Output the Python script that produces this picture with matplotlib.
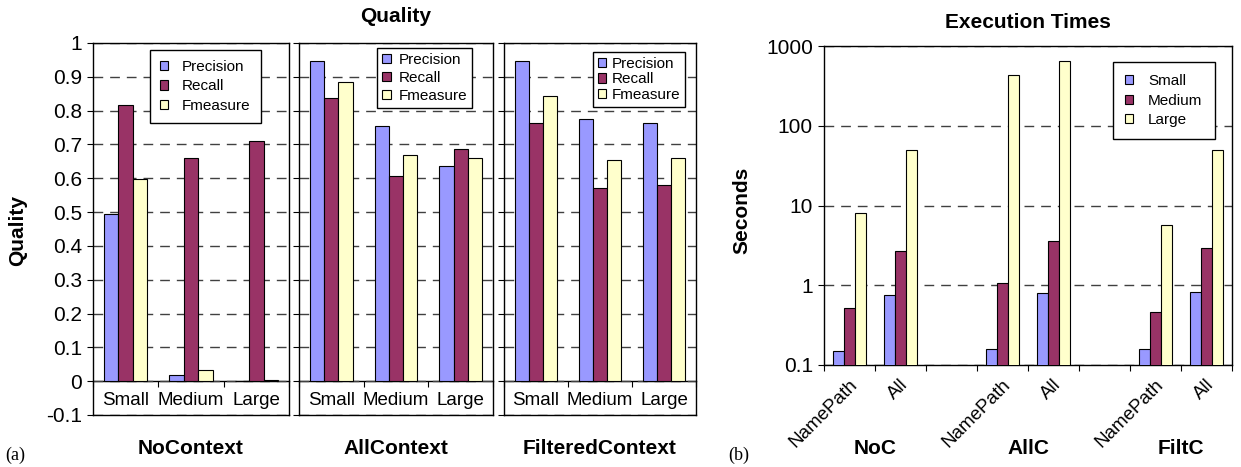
import numpy as np
import matplotlib.pyplot as plt
from matplotlib.patches import Patch
from matplotlib.ticker import NullLocator
from matplotlib.transforms import blended_transform_factory, ScaledTranslation

plt.rcParams['font.family'] = ['Liberation Sans', 'DejaVu Sans']

# ---- (a) Quality data ----
sizes = ["Small", "Medium", "Large"]
measures = ["Precision", "Recall", "Fmeasure"]
contexts = ["NoContext", "AllContext", "FilteredContext"]

noctx_precision = [0.493, 0.017, 0.0]
noctx_recall = [0.817, 0.661, 0.711]
noctx_fmeasure = [0.597, 0.034, 0.003]

allctx_precision = [0.946, 0.754, 0.636]
allctx_recall = [0.837, 0.608, 0.687]
allctx_fmeasure = [0.886, 0.670, 0.660]

filtctx_precision = [0.948, 0.776, 0.764]
filtctx_recall = [0.764, 0.570, 0.580]
filtctx_fmeasure = [0.844, 0.653, 0.660]

quality_ticks = [-0.1, 0, 0.1, 0.2, 0.3, 0.4, 0.5, 0.6, 0.7, 0.8, 0.9, 1]
quality_labels = ["-0.1", "0", "0.1", "0.2", "0.3", "0.4", "0.5", "0.6", "0.7", "0.8", "0.9", "1"]

# ---- (b) Execution time data (seconds), blank slots separate the groups ----
exec_cats = ["NamePath", "All", "", "NamePath", "All", "", "NamePath", "All"]
exec_groups = ["NoC", "AllC", "FiltC"]
small_secs = [0.150, 0.749, np.nan, 0.157, 0.80, np.nan, 0.157, 0.82]
medium_secs = [0.514, 2.72, np.nan, 1.06, 3.57, np.nan, 0.46, 2.91]
large_secs = [8.0, 50.0, np.nan, 437, 642, np.nan, 5.72, 50.0]
time_ticks = [0.1, 1, 10, 100, 1000]
time_labels = ["0.1", "1", "10", "100", "1000"]

colors = ["#9999FF", "#993366", "#FFFFCC"]
W, H = 1241, 467
bw = 0.22

fig = plt.figure(figsize=(W / 100, H / 100), dpi=100)


def px_axes(x0, x1, y0, y1):
    return fig.add_axes([x0 / W, 1 - y1 / H, (x1 - x0) / W, (y1 - y0) / H])


def legend_box(ax, labels, anchor, spacing, textpad, pad):
    handles = [Patch(facecolor=c, edgecolor="black", linewidth=0.8) for c in colors]
    leg = ax.legend(handles, labels, loc="upper left", bbox_to_anchor=anchor,
                    borderaxespad=0, fontsize=11, handlelength=0.55, handleheight=0.55,
                    handletextpad=textpad, labelspacing=spacing, borderpad=pad,
                    fancybox=False, framealpha=1, edgecolor="black")
    leg.get_frame().set_linewidth(1.0)
    leg.set_zorder(5)


# ---- (a) three quality panels ----
panel_px = [(93, 289), (299, 493), (504, 696)]
panel_series = [
    [noctx_precision, noctx_recall, noctx_fmeasure],
    [allctx_precision, allctx_recall, allctx_fmeasure],
    [filtctx_precision, filtctx_recall, filtctx_fmeasure],
]
legend_setup = [
    ((0.291, 0.981), 0.36, 0.9, 0.65),
    ((0.402, 0.987), 0.25, 0.5, 0.35),
    ((0.464, 0.976), 0.12, 0.4, 0.3),
]

for i, ((x0, x1), series) in enumerate(zip(panel_px, panel_series)):
    ax = px_axes(x0, x1, 43, 415)
    ax.set_xlim(0, 3)
    ax.set_ylim(-0.1, 1)
    x = np.arange(len(sizes)) + 0.5
    for k, (vals, col) in enumerate(zip(series, colors)):
        ax.bar(x + (k - 1) * bw, vals, bw, color=col, edgecolor="black",
               linewidth=0.8, zorder=3)
    ax.set_yticks(quality_ticks)
    ax.set_yticklabels(quality_labels if i == 0 else [])
    ax.tick_params(axis="y", direction="out", length=4, width=0.8, labelsize=15, pad=4)
    ax.set_xticks([])
    ax.grid(axis="y", linestyle=(0, (7, 5)), color="#404040", linewidth=1.0)
    ax.set_axisbelow(True)
    for sp in ax.spines.values():
        sp.set_linewidth(1.0)
    # category axis at y = 0
    sec = ax.secondary_xaxis(1 / 11)
    sec.set_xticks([0, 1, 2, 3])
    sec.set_xticklabels([])
    sec.tick_params(direction="out", length=4, width=0.8)
    sec.spines["bottom"].set_linewidth(1.0)
    for xi, s in zip(x, sizes):
        ax.text(xi, -0.057, s, ha="center", va="center", fontsize=13.5)
    legend_box(ax, measures, *legend_setup[i])
    fig.text((x0 + x1) / 2 / W, 1 - 449 / H, contexts[i], ha="center", va="center",
             fontsize=15, fontweight="bold")

fig.text(396 / W, 1 - 17 / H, "Quality", ha="center", va="center",
         fontsize=15, fontweight="bold")
fig.text(18 / W, 1 - 230 / H, "Quality", ha="center", va="center", rotation=90,
         fontsize=15, fontweight="bold")
fig.text(5 / W, 1 - 455 / H, "(a)", ha="left", va="center", fontsize=13,
         family="Liberation Serif")

# ---- (b) execution times ----
ax = px_axes(824, 1232, 46, 365)
ax.set_yscale("log")
ax.set_xlim(0, len(exec_cats))
pos = np.arange(len(exec_cats)) + 0.5
for k, (vals, col) in enumerate(zip([small_secs, medium_secs, large_secs], colors)):
    ax.bar(pos + (k - 1) * bw, vals, bw, color=col, edgecolor="black",
           linewidth=0.8, zorder=3)
ax.set_ylim(0.1, 1000)
ax.set_yticks(time_ticks)
ax.set_yticklabels(time_labels)
ax.yaxis.set_minor_locator(NullLocator())
ax.tick_params(axis="y", direction="out", length=4, width=0.8, labelsize=15, pad=4)
ax.set_xticks(np.arange(len(exec_cats) + 1))
ax.set_xticklabels([])
ax.set_xticks(pos, minor=True)
ax.set_xticklabels(exec_cats, minor=True, rotation=45, ha="right", va="center",
                   rotation_mode="anchor", fontsize=13.5)
ax.tick_params(axis="x", which="major", direction="out", length=4, width=0.8)
ax.tick_params(axis="x", which="minor", length=0, pad=12)
# nudge the slanted labels a little to the right, as in the original
for lab in ax.get_xticklabels(minor=True):
    lab.set_transform(lab.get_transform() + ScaledTranslation(0.05, 0, fig.dpi_scale_trans))
ax.grid(axis="y", which="major", linestyle=(0, (7, 5)), color="#404040", linewidth=1.0)
ax.set_axisbelow(True)
for sp in ax.spines.values():
    sp.set_linewidth(1.0)
legend_box(ax, ["Small", "Medium", "Large"], (0.708, 0.950), 0.35, 0.95, 0.8)

trans = blended_transform_factory(ax.transData, fig.transFigure)
for gx, g in zip([1, 4, 7], exec_groups):
    ax.text(gx, 1 - 448 / H, g, transform=trans, ha="center", va="center",
            fontsize=15, fontweight="bold")

fig.text(1028 / W, 1 - 22 / H, "Execution Times", ha="center", va="center",
         fontsize=15, fontweight="bold")
fig.text(742 / W, 1 - 210 / H, "Seconds", ha="center", va="center", rotation=90,
         fontsize=15, fontweight="bold")
fig.text(728 / W, 1 - 455 / H, "(b)", ha="left", va="center", fontsize=13,
         family="Liberation Serif")

fig.savefig("out.png", dpi=100)
